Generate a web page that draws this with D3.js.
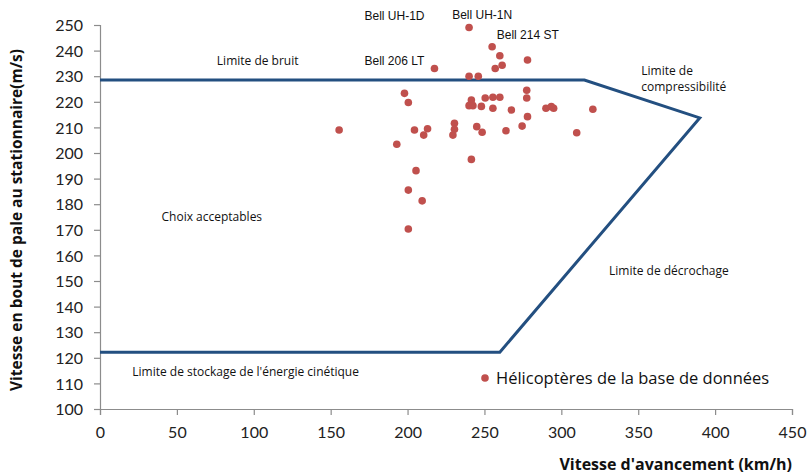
<!DOCTYPE html>
<html>
<head>
<meta charset="utf-8">
<script src="https://cdn.jsdelivr.net/npm/d3@7"></script>
<style>
  body { margin: 0; background: #fff; }
  text { font-family: "Open Sans", Lato, sans-serif; }
</style>
</head>
<body>
<script>
let width = 808;
let height = 476;
let margin = {top: 25, right: 16, bottom: 67, left: 100};

// helicopter database points (km/h, m/s)
let speeds = [240, 255, 260, 278, 261.5, 257, 217.5, 240, 246, 198, 200.5, 241.5, 240, 242.5,
  250.5, 255.5, 260, 277.5, 277.5, 248, 255.5, 267.5, 290, 293.5, 295, 320.5, 278,
  155.5, 204.5, 213, 210.5, 230.5, 230.5, 229.5, 245, 248.5, 264, 274.5, 310,
  193, 241.5, 205.5, 200.5, 209.5, 200.5];
let tipSpeeds = [249, 241.5, 238, 236.3, 234.3, 233, 233, 230, 230, 223.3, 219.7, 220.7, 218.5, 218.5,
  221.5, 221.8, 221.8, 224.5, 221.5, 218.2, 217.5, 216.8, 217.5, 218.1, 217.5, 217.1, 214.2,
  209, 209, 209.5, 207, 211.6, 209.3, 207, 210.3, 208.1, 208.7, 210.5, 207.9,
  203.4, 197.5, 193.1, 185.5, 181.3, 170.3];

// envelope (noise / compressibility / stall / kinetic energy limits)
let limitX = [0, 315, 390, 260, 0];
let limitY = [228.5, 228.5, 213.7, 122.2, 122.2];

let xTicks = d3.range(0, 451, 50);
let yTicks = d3.range(100, 251, 10);

let helicopterNames = ['Bell UH-1D', 'Bell UH-1N', 'Bell 214 ST', 'Bell 206 LT'];
let nameX = [172, 229, 258, 172];
let nameY = [251.8, 252.5, 244.5, 234.5];

let zoneNames = ['Limite de bruit', 'Choix acceptables', 'Limite de décrochage',
  "Limite de stockage de l'énergie cinétique"];
let zoneX = [76, 40, 331, 21];
let zoneY = [234.5, 173.5, 152.5, 113];

let x = d3.scaleLinear().domain([0, 450]).range([margin.left, width - margin.right]);
let y = d3.scaleLinear().domain([100, 250]).range([height - margin.bottom, margin.top]);

let svg = d3.select('body')
    .append('svg')
    .attr('width', width)
    .attr('height', height);

let xAxis = svg.append('g')
    .attr('transform', `translate(0,${y(100)})`)
    .call(d3.axisBottom(x).tickValues(xTicks).tickSize(6).tickPadding(12));

let yAxis = svg.append('g')
    .attr('transform', `translate(${x(0)},0)`)
    .call(d3.axisLeft(y).tickValues(yTicks).tickSize(6).tickPadding(11));

[xAxis, yAxis].forEach(g => {
  g.select('.domain').attr('stroke', '#8c8c8c').attr('stroke-width', 1.2);
  g.selectAll('.tick line').attr('stroke', '#8c8c8c').attr('stroke-width', 1.2);
  g.selectAll('.tick text')
      .attr('fill', '#222')
      .style('font-family', 'Lato, sans-serif')
      .style('font-size', '16px');
});
yAxis.selectAll('.tick text').attr('dy', '0.35em');

// axis titles
svg.append('text')
    .attr('transform', `translate(22,${(y(100) + y(250)) / 2 + 3}) rotate(-90)`)
    .attr('text-anchor', 'middle')
    .style('font-size', '15.5px')
    .style('font-weight', 'bold')
    .attr('fill', '#111')
    .text('Vitesse en bout de pale au stationnaire(m/s)');

svg.append('text')
    .attr('x', x(450))
    .attr('y', 470)
    .attr('text-anchor', 'end')
    .style('font-size', '16px')
    .style('font-weight', 'bold')
    .attr('fill', '#111')
    .text("Vitesse d'avancement (km/h)");

// envelope line
let line = d3.line()
    .x(i => x(limitX[i]))
    .y(i => y(limitY[i]));

svg.append('path')
    .datum(d3.range(limitX.length))
    .attr('d', line)
    .attr('fill', 'none')
    .attr('stroke', '#234f80')
    .attr('stroke-width', 3)
    .attr('stroke-linejoin', 'miter');

// points
svg.append('g')
  .selectAll('circle')
  .data(d3.range(speeds.length))
  .enter().append('circle')
    .attr('cx', i => x(speeds[i]))
    .attr('cy', i => y(tipSpeeds[i]))
    .attr('r', 3.8)
    .attr('fill', '#c0504d');

// helicopter name labels
svg.append('g')
  .selectAll('text')
  .data(helicopterNames)
  .enter().append('text')
    .attr('x', (d, i) => x(nameX[i]))
    .attr('y', (d, i) => y(nameY[i]))
    .style('font-family', '"Liberation Sans", Arial, sans-serif')
    .style('font-size', '12px')
    .attr('fill', '#111')
    .text(d => d);

// zone labels
svg.append('g')
  .selectAll('text')
  .data(zoneNames)
  .enter().append('text')
    .attr('x', (d, i) => x(zoneX[i]))
    .attr('y', (d, i) => y(zoneY[i]))
    .style('font-size', '12px')
    .attr('fill', '#111')
    .text(d => d);

let comp = svg.append('text')
    .attr('x', x(352))
    .attr('y', y(230.5))
    .style('font-size', '12px')
    .attr('fill', '#111');
comp.append('tspan').attr('x', x(352)).text('Limite de');
comp.append('tspan').attr('x', x(352)).attr('dy', 16).text('compressibilité');

// legend
svg.append('circle')
    .attr('cx', 485)
    .attr('cy', 378)
    .attr('r', 3.8)
    .attr('fill', '#c0504d');
svg.append('text')
    .attr('x', 496)
    .attr('y', 384)
    .style('font-size', '16.5px')
    .attr('fill', '#111')
    .text('Hélicoptères de la base de données');
</script>
</body>
</html>
